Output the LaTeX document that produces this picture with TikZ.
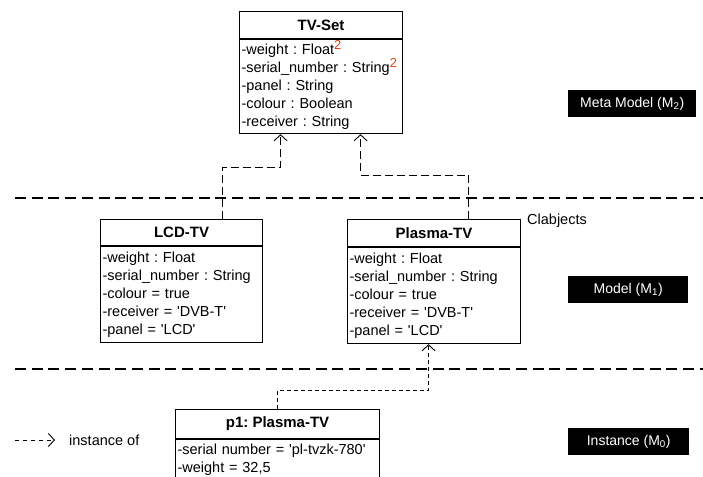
\documentclass[tikz,border=0pt]{standalone}
\usepackage{fontspec}
\setmainfont{Liberation Sans}
\usetikzlibrary{positioning,arrows.meta}
\definecolor{supred}{RGB}{232,64,16}
\newcommand{\redtwo}{\smash{\raisebox{5pt}{\fontsize{13}{13}\selectfont\color{supred}2}}}
\newcommand{\tq}{\textquotesingle}
\frenchspacing

\begin{document}
\begin{tikzpicture}[x=1pt,y=-1pt,
    font=\fontsize{14.5}{18}\selectfont,
    classtitle/.style={draw, line width=1.1pt, font=\fontsize{15}{18}\selectfont\bfseries, inner sep=0pt, anchor=north west},
    classattr/.style={draw, line width=1.1pt, align=left, inner xsep=2pt, inner ysep=4pt},
    instof/.style={line width=0.9pt, dash pattern=on 8pt off 4pt, -{Straight Barb[length=6pt,width=13pt]}},
    levelbox/.style={fill=black, text=white, font=\fontsize{14}{18}\selectfont, inner sep=0pt, minimum height=27pt, anchor=north west},
    separator/.style={line width=1.3pt, dash pattern=on 11pt off 5.7pt}]
  \useasboundingbox (0,0) rectangle (703,476);
  \clip (0,0) rectangle (703,476);

  %Niveis
  \draw[separator] (15,198) -- (703,198);
  \draw[separator] (15,369) -- (703,369);
  \node[levelbox, minimum width=128pt] (m2) at (568,90) {Meta Model (M\textsubscript{2})};
  \node[levelbox, minimum width=120pt] (m1) at (568,276) {Model (M\textsubscript{1})};
  \node[levelbox, minimum width=121pt] (m0) at (568,428) {Instance (M\textsubscript{0})};
  \node[anchor=west, inner sep=0pt] (clabjects) at (527,221) {Clabjects};

  %Meta modelo
  \node[classtitle, minimum width=163pt, minimum height=27pt] (tvset) at (239,11) {TV-Set};
  \node[classattr, text width=159pt, minimum height=94pt, below=0pt of tvset] (tvsetattr)
    {-weight : Float\redtwo\\ -serial\_number : String\redtwo\\ -panel : String\\ -colour : Boolean\\ -receiver : String};

  %Modelo
  \node[classtitle, minimum width=162pt, minimum height=26pt] (lcd) at (100,219) {LCD-TV};
  \node[classattr, text width=158pt, minimum height=96pt, below=0pt of lcd] (lcdattr)
    {-weight : Float\\ -serial\_number : String\\ -colour = true\\ -receiver = \tq DVB-T\tq\\ -panel = \tq LCD\tq};

  \node[classtitle, minimum width=173pt, minimum height=27pt] (plasma) at (347,219) {Plasma-TV};
  \node[classattr, text width=169pt, minimum height=96pt, below=0pt of plasma] (plasmaattr)
    {-weight : Float\\ -serial\_number : String\\ -colour = true\\ -receiver = \tq DVB-T\tq\\ -panel = \tq LCD\tq};

  %Instancia
  \node[classtitle, minimum width=204pt, minimum height=29pt] (p1) at (175,409) {p1: Plasma-TV};
  \node[classattr, text width=200pt, below=0pt of p1] (p1attr)
    {-serial number = \tq pl-tvzk-780\tq\\ -weight = 32,5\rule[-20pt]{0pt}{0pt}};

  %Ligacoes
  \draw[instof] ([xshift=41pt]lcd.north) -- ++(0,-52) -| ([xshift=-40.5pt]tvsetattr.south);
  \draw[instof] ([xshift=34.5pt]plasma.north) -- ++(0,-44) -| ([xshift=39.5pt]tvsetattr.south);
  \draw[instof, dash pattern=on 4pt off 3pt] (p1.north) -- ++(0,-19) -| ([xshift=-5.5pt]plasmaattr.south);

  %Legenda
  \coordinate (legtail) at (15,440);
  \coordinate (leghead) at (55,440);
  \draw[instof, dash pattern=on 4pt off 4pt] (legtail) -- (leghead);
  \node[anchor=west, inner sep=0pt] (legtext) at (69,440) {instance of};
\end{tikzpicture}
\end{document}
